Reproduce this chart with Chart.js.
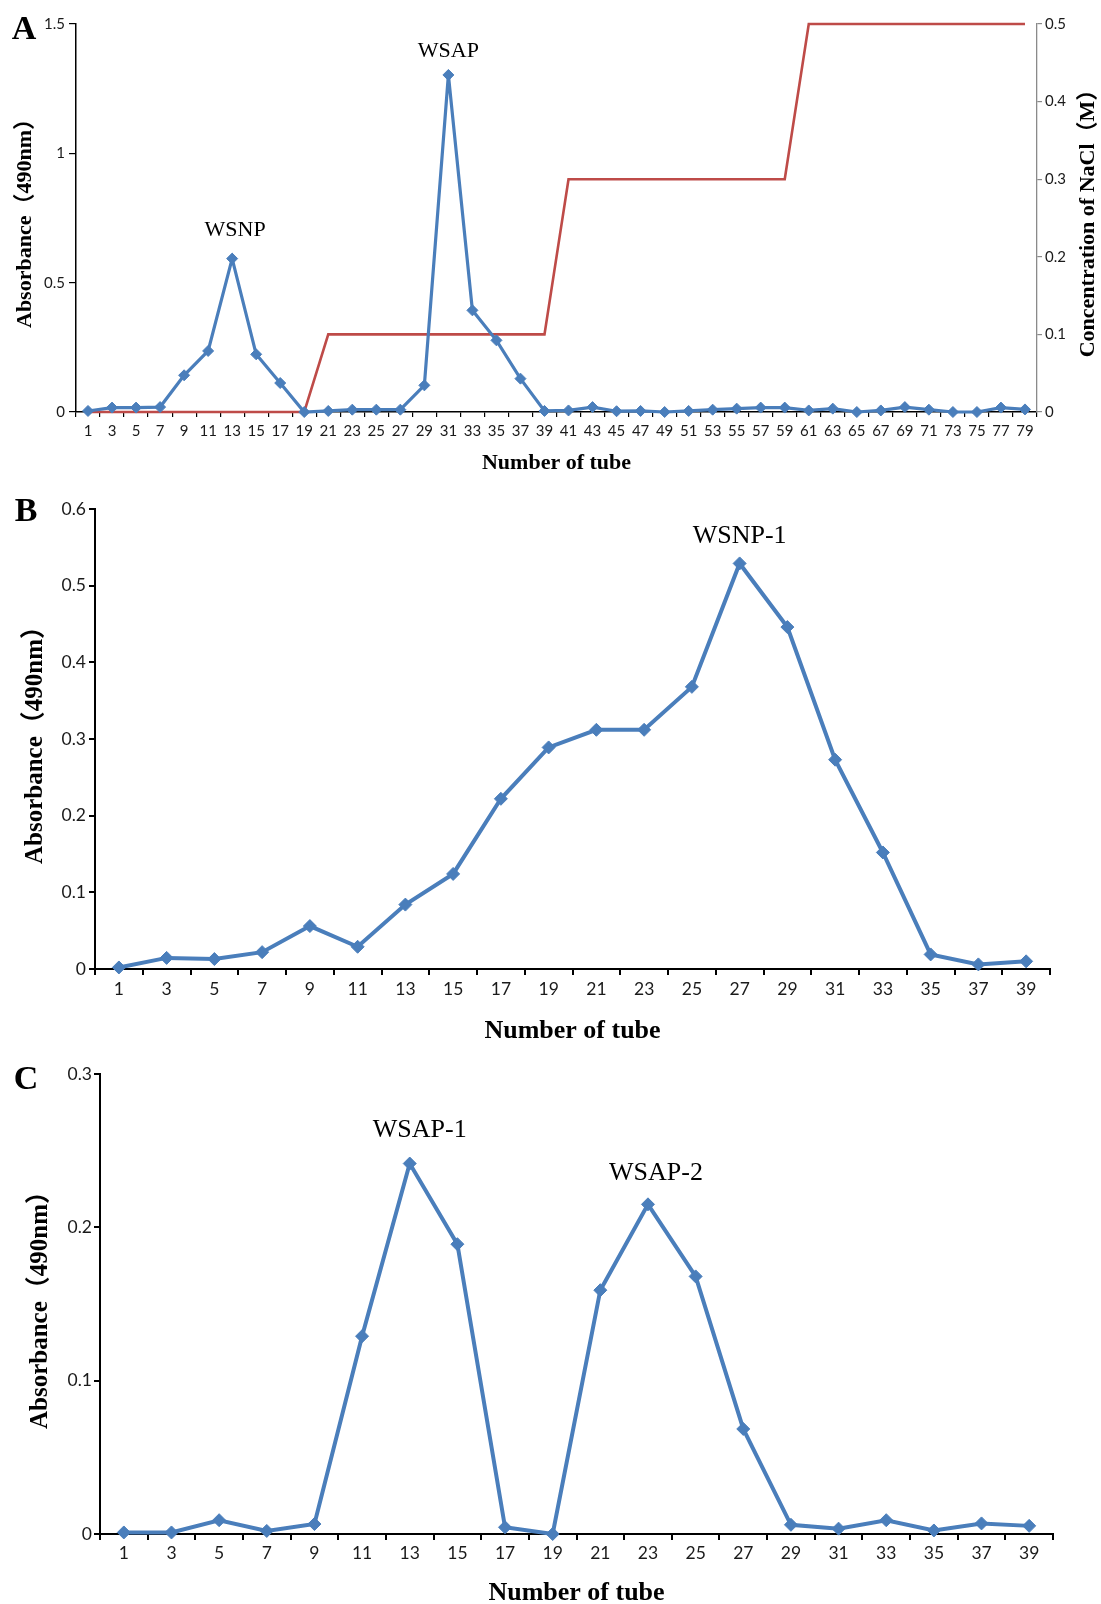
<!DOCTYPE html>
<html><head><meta charset="utf-8">
<script src="https://cdn.jsdelivr.net/npm/chart.js@4.4.1/dist/chart.umd.min.js"></script>
<style>
html,body{margin:0;padding:0;background:#fff;}
body{width:1101px;height:1604px;position:relative;overflow:hidden;}
canvas{position:absolute;left:0;}
</style></head><body>
<canvas id="cA" width="1101" height="480" style="top:0px"></canvas>
<canvas id="cB" width="1101" height="575" style="top:480px"></canvas>
<canvas id="cC" width="1101" height="564" style="top:1040px"></canvas>
<script>
// ---------- data ----------
const tubesA = [1,3,5,7,9,11,13,15,17,19,21,23,25,27,29,31,33,35,37,39,41,43,45,47,49,51,53,55,57,59,61,63,65,67,69,71,73,75,77,79];
const absorbanceA = [0.004,0.017,0.017,0.019,0.142,0.236,0.593,0.223,0.112,0.0,
                     0.004,0.009,0.009,0.009,0.103,1.303,0.393,0.277,0.129,0.004,
                     0.006,0.019,0.003,0.004,0.0,0.004,0.009,0.013,0.017,0.017,
                     0.006,0.013,0.0,0.006,0.019,0.009,0.0,0.0,0.017,0.010];
const naclA = [0,0,0,0,0,0,0,0,0,0,
               0.1,0.1,0.1,0.1,0.1,0.1,0.1,0.1,0.1,0.1,
               0.3,0.3,0.3,0.3,0.3,0.3,0.3,0.3,0.3,0.3,
               0.5,0.5,0.5,0.5,0.5,0.5,0.5,0.5,0.5,0.5];
const tubesB = [1,3,5,7,9,11,13,15,17,19,21,23,25,27,29,31,33,35,37,39];
const absorbanceB = [0.002,0.0145,0.013,0.022,0.056,0.029,0.084,0.124,0.222,0.289,
                     0.312,0.312,0.368,0.529,0.446,0.273,0.152,0.019,0.006,0.010];
const tubesC = [1,3,5,7,9,11,13,15,17,19,21,23,25,27,29,31,33,35,37,39];
const absorbanceC = [0.001,0.001,0.009,0.002,0.0065,0.129,0.2416,0.189,0.0044,0.0,
                     0.159,0.215,0.168,0.0685,0.006,0.0035,0.009,0.0023,0.0069,0.0053];
const peakTextA = ['WSNP','WSAP'];
const peakTubeA = [13,31];
const peakTextB = ['WSNP-1'];
const peakTubeB = [27];
const peakTextC = ['WSAP-1','WSAP-2'];
const peakTubeC = [13,23];

// ---------- styles ----------
const BLUE = '#4A7EBB';
const RED = '#BE4B48';
const SERIF = '"Liberation Serif", "Noto Sans CJK SC", serif';
const SANS = 'Lato, "Open Sans", sans-serif';
Chart.defaults.font.family = SANS;
Chart.defaults.color = '#1a1a1a';
const fmt = v => String(Math.round(v * 100) / 100);

function textPlugin(cfg) {
  return {
    id: 'panelText',
    afterDatasetsDraw(chart) {
      const ctx = chart.ctx;
      ctx.save();
      ctx.fillStyle = '#000';
      ctx.textAlign = 'center';
      ctx.textBaseline = 'middle';
      ctx.font = 'bold 34px ' + SERIF;
      ctx.fillText(cfg.letter, cfg.letterX, cfg.letterY);
      const xs = chart.scales.x, ys = chart.scales.y;
      ctx.font = cfg.peakFont;
      cfg.peakText.forEach((t, k) => {
        const i = cfg.tubes.indexOf(cfg.peakTube[k]);
        const x = xs.getPixelForValue(i) + cfg.peakDx[k];
        const y = ys.getPixelForValue(cfg.values[i]) + cfg.peakDy[k];
        ctx.fillText(t, x, y);
      });
      if (cfg.rightTitle) {
        const s = chart.scales.y2;
        ctx.translate(cfg.rightTitleX, (s.top + s.bottom) / 2);
        ctx.rotate(-Math.PI / 2);
        ctx.font = 'bold 22px ' + SERIF;
        ctx.fillText(cfg.rightTitle, 0, 0);
      }
      ctx.restore();
    }
  };
}

function xAxis(o) {
  return {
    type: 'category',
    offset: true,
    grid: { offset: true, drawOnChartArea: false, drawTicks: true, tickLength: o.tl, color: '#000', lineWidth: o.gw },
    border: { display: true, color: '#000', width: o.bw },
    ticks: { autoSkip: false, maxRotation: 0, minRotation: 0, padding: o.pad, color: '#1a1a1a', font: { size: o.fs } },
    title: { display: true, text: 'Number of tube', color: '#000',
             font: { family: SERIF, size: o.tfs, weight: 'bold', lineHeight: o.tlh },
             padding: { top: 0, bottom: o.tpad } },
    afterFit(s) { s.height = o.h; }
  };
}
function yAxis(o) {
  return {
    position: 'left',
    min: 0, max: o.max,
    grid: { drawOnChartArea: false, drawTicks: true, tickLength: o.tl, color: '#000', lineWidth: o.gw },
    border: { display: true, color: '#000', width: o.bw },
    ticks: { stepSize: o.step, padding: o.pad, color: '#1a1a1a', font: { size: o.fs }, callback: fmt },
    title: { display: true, text: 'Absorbance（490nm）', color: '#000',
             font: { family: SERIF, size: o.tfs, weight: 'bold', lineHeight: 1 },
             padding: { top: o.tpad, bottom: 0 } },
    afterFit(s) { s.width = o.w; }
  };
}
function blueSet(data, r, bw) {
  return {
    label: 'Absorbance', data: data, yAxisID: 'y',
    borderColor: BLUE, backgroundColor: BLUE, borderWidth: bw,
    pointStyle: 'rectRot', pointRadius: r, pointBorderWidth: 1,
    pointBackgroundColor: BLUE, pointBorderColor: BLUE,
    tension: 0, clip: false, order: 0
  };
}
const common = {
  responsive: false, animation: false, devicePixelRatio: 1,
  plugins: { legend: { display: false }, tooltip: { enabled: false } },
  events: []
};

// ---------- Panel A ----------
new Chart(document.getElementById('cA'), {
  type: 'line',
  data: {
    labels: tubesA.map(String),
    datasets: [
      blueSet(absorbanceA, 5.5, 3.2),
      { label: 'NaCl', data: naclA, yAxisID: 'y2', borderColor: RED, backgroundColor: RED,
        borderWidth: 2.6, pointRadius: 0, tension: 0, clip: false, order: 1 }
    ]
  },
  options: Object.assign({}, common, {
    layout: { padding: { top: 24, left: 0, right: 0, bottom: 0 } },
    scales: {
      x: xAxis({ tl: 5, gw: 1.2, bw: 1.5, pad: 5, fs: 15, tfs: 22, tlh: 1, tpad: 6, h: 68 }),
      y: yAxis({ max: 1.5, step: 0.5, tl: 7, gw: 1.2, bw: 1.5, pad: 4, fs: 15, tfs: 22, tpad: 14, w: 76 }),
      y2: {
        position: 'right', min: 0, max: 0.5,
        grid: { drawOnChartArea: false, drawTicks: true, tickLength: 5, color: '#8a8a8a', lineWidth: 1.2 },
        border: { display: true, color: '#8a8a8a', width: 1.3 },
        ticks: { stepSize: 0.1, padding: 3, color: '#1a1a1a', font: { size: 15 }, callback: fmt },
        afterFit(s) { s.width = 64; }
      }
    }
  }),
  plugins: [textPlugin({ letter: 'A', letterX: 24, letterY: 30, peakFont: '22px ' + SERIF,
    tubes: tubesA, values: absorbanceA, peakText: peakTextA, peakTube: peakTubeA,
    peakDx: [3, 0], peakDy: [-28, -24], rightTitle: 'Concentration of NaCl（M）', rightTitleX: 1088 })]
});

// ---------- Panel B ----------
new Chart(document.getElementById('cB'), {
  type: 'line',
  data: { labels: tubesB.map(String), datasets: [blueSet(absorbanceB, 6.5, 4)] },
  options: Object.assign({}, common, {
    layout: { padding: { top: 29, left: 0, right: 51, bottom: 0 } },
    scales: {
      x: xAxis({ tl: 6, gw: 2, bw: 2, pad: 4, fs: 17.5, tfs: 26, tlh: 1, tpad: 11, h: 86 }),
      y: yAxis({ max: 0.6, step: 0.1, tl: 6, gw: 2, bw: 2, pad: 3, fs: 17.5, tfs: 25, tpad: 23, w: 95 })
    }
  }),
  plugins: [textPlugin({ letter: 'B', letterX: 26, letterY: 32, peakFont: '26px ' + SERIF,
    tubes: tubesB, values: absorbanceB, peakText: peakTextB, peakTube: peakTubeB,
    peakDx: [0], peakDy: [-27] })]
});

// ---------- Panel C ----------
new Chart(document.getElementById('cC'), {
  type: 'line',
  data: { labels: tubesC.map(String), datasets: [blueSet(absorbanceC, 6.5, 4)] },
  options: Object.assign({}, common, {
    layout: { padding: { top: 34, left: 0, right: 48, bottom: 0 } },
    scales: {
      x: xAxis({ tl: 6, gw: 2, bw: 2, pad: 3, fs: 17.5, tfs: 26, tlh: 0.85, tpad: 0, h: 70 }),
      y: yAxis({ max: 0.3, step: 0.1, tl: 6, gw: 2, bw: 2, pad: 2, fs: 17.5, tfs: 25, tpad: 28, w: 100 })
    }
  }),
  plugins: [textPlugin({ letter: 'C', letterX: 26, letterY: 40, peakFont: '26px ' + SERIF,
    tubes: tubesC, values: absorbanceC, peakText: peakTextC, peakTube: peakTubeC,
    peakDx: [10, 8], peakDy: [-33, -31] })]
});
</script>
</body></html>
